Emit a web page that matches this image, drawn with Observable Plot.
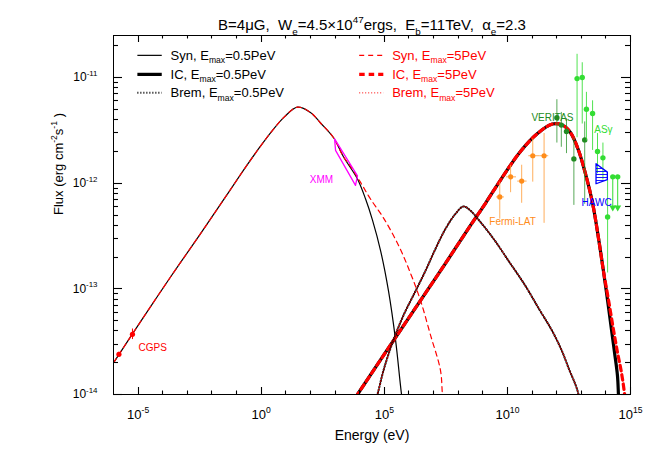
<!DOCTYPE html>
<html><head><meta charset="utf-8">
<script src="https://cdn.jsdelivr.net/npm/d3@7"></script>
<script src="https://cdn.jsdelivr.net/npm/@observablehq/plot@0.6"></script>
<style>
html,body{margin:0;padding:0;background:#fff;}
svg text{white-space:pre;}
</style></head><body><div id="chart"></div>
<script>
// ---------- values (log10 of energy in eV, log10 of flux in erg cm^-2 s^-1) ----------
const titleText = "B=4\u03bcG,  W_{e}=4.5\u00d710^{47}ergs,  E_{b}=11TeV,  \u03b1_{e}=2.3";
const xLabel = "Energy (eV)";
const yLabel = "Flux (erg cm^{-2}s^{-1} )";
const xTickExp = [-5, 0, 5, 10, 15];
const yTickExp = [-14, -13, -12, -11];

// Synchrotron, Emax = 0.5 PeV
const synLogE = [-6.00, -4.90, -3.69, -2.47, -1.45, -0.64, -0.03, 0.46, 0.95, 1.47, 2.00, 2.41, 2.94, 3.34, 3.91, 4.24, 4.52, 4.85, 5.17, 5.46, 5.70, 5.86];
const synLogF = [-13.70, -13.31, -12.89, -12.48, -12.13, -11.85, -11.65, -11.50, -11.37, -11.28, -11.33, -11.43, -11.57, -11.75, -11.96, -12.15, -12.35, -12.64, -13.02, -13.49, -14.00, -14.25];
// Synchrotron, Emax = 5 PeV
const syn5LogE = [-6.00, -4.90, -3.69, -2.47, -1.45, -0.64, -0.03, 0.46, 0.95, 1.47, 2.00, 2.41, 2.94, 3.34, 3.63, 4.03, 4.44, 4.97, 5.58, 6.06, 6.47, 6.88, 7.28, 7.36, 7.44];
const syn5LogF = [-13.70, -13.31, -12.89, -12.48, -12.13, -11.85, -11.65, -11.50, -11.37, -11.28, -11.33, -11.43, -11.57, -11.75, -11.84, -11.99, -12.15, -12.33, -12.59, -12.85, -13.11, -13.44, -13.77, -14.00, -14.20];
// Inverse Compton, Emax = 0.5 PeV
const icLogE = [3.63, 3.91, 5.66, 7.28, 8.50, 9.11, 9.72, 10.53, 11.22, 11.83, 12.24, 12.56, 12.89, 13.17, 13.46, 13.70, 13.90, 14.07, 14.23, 14.35, 14.47, 14.51, 14.55];
const icLogF = [-14.10, -14.00, -13.39, -12.83, -12.40, -12.19, -11.97, -11.70, -11.53, -11.44, -11.45, -11.52, -11.69, -11.91, -12.19, -12.52, -12.83, -13.11, -13.39, -13.60, -13.82, -14.00, -14.25];
// Inverse Compton, Emax = 5 PeV
const ic5LogE = [3.63, 3.91, 5.66, 7.28, 8.50, 9.11, 9.72, 10.53, 11.22, 11.83, 12.24, 12.56, 12.89, 13.17, 13.46, 13.70, 13.90, 14.11, 14.31, 14.47, 14.63, 14.76, 14.84];
const ic5LogF = [-14.10, -14.00, -13.39, -12.83, -12.40, -12.19, -11.97, -11.70, -11.53, -11.44, -11.45, -11.52, -11.69, -11.91, -12.19, -12.52, -12.83, -13.11, -13.39, -13.60, -13.79, -14.00, -14.25];
// Bremsstrahlung (both Emax, indistinguishable here)
const bremLogE = [4.52, 4.72, 4.97, 5.33, 5.78, 6.27, 6.67, 7.08, 7.49, 7.89, 8.22, 8.50, 8.88, 9.48, 10.09, 10.70, 11.31, 11.80, 12.20, 12.52, 12.77, 12.89, 13.01];
const bremLogF = [-14.15, -14.00, -13.77, -13.51, -13.25, -13.02, -12.83, -12.62, -12.43, -12.29, -12.22, -12.26, -12.36, -12.54, -12.75, -12.96, -13.20, -13.39, -13.58, -13.77, -13.91, -14.00, -14.15];
const brem5LogE = bremLogE.slice();
const brem5LogF = bremLogF.slice();

// Observations
const cgpsLogE = [-5.78, -5.23];
const cgpsLogF = [-13.62, -13.43];
const cgpsLogFlo = [-13.64, -13.48];
const cgpsLogFhi = [-13.60, -13.38];

// XMM butterfly outline: top-left, top-right, bottom-right, bottom-left, back to start
const xmmLogE = [2.98, 3.91, 3.83, 3.02, 2.98];
const xmmLogF = [-11.58, -11.93, -12.02, -11.69, -11.58];

const fermiLogE = [9.69, 10.13, 10.58, 11.03, 11.49];
const fermiLogElo = [9.56, 9.96, 10.42, 10.87, 11.32];
const fermiLogEhi = [9.88, 10.37, 10.80, 11.32, 11.68];
const fermiLogF = [-12.13, -11.94, -11.98, -11.74, -11.74];
const fermiLogFlo = [-12.34, -12.09, -12.19, -11.99, -12.38];
const fermiLogFhi = [-11.99, -11.83, -11.83, -11.58, -11.53];

const verLogE = [12.01, 12.19, 12.40, 12.70, 13.14];
const verLogF = [-11.38, -11.45, -11.51, -11.77, -11.59];
const verLogFlo = [-11.62, -11.66, -11.72, -12.21, -12.20];
const verLogFhi = [-11.21, -11.33, -11.39, -11.57, -11.42];

const asLogE = [12.83, 13.04, 13.21, 13.46, 13.66, 13.88, 14.07];
const asLogF = [-11.01, -11.00, -11.30, -11.34, -11.70, -11.76, -12.32];
const asLogFlo = [-11.57, -11.44, -11.60, -11.69, -11.91, -11.97, -12.85];
const asLogFhi = [-10.78, -10.86, -11.14, -11.22, -11.53, -11.62, -11.97];
const asUlLogE = [14.28, 14.48];
const asUlLogF = [-11.94, -11.94];
const asUlLogFend = [-12.23, -12.23];

const hawcLogE = [13.62, 14.08];
const hawcLogFlo = [-12.01, -11.97];
const hawcLogFhi = [-11.82, -11.90];

// Data labels
const dataLabels = ["CGPS", "XMM", "Fermi-LAT", "VERITAS", "AS\u03b3", "HAWC"];
const dataLabelLogE = [-4.98, 2.45, 10.21, 11.83, 13.90, 13.62];
const dataLabelLogF = [-13.56, -11.97, -12.37, -11.38, -11.49, -12.19];
const dataLabelColors = ["#ff0000", "#ff00ff", "#ff8c1a", "#228b22", "#33dd33", "#0000ff"];
const dataLabelAnchor = ["start", "middle", "middle", "middle", "middle", "middle"];

// Legend
const legendLabels = ["Syn, E_{max}=0.5PeV", "IC, E_{max}=0.5PeV", "Brem, E_{max}=0.5PeV", "Syn, E_{max}=5PeV", "IC, E_{max}=5PeV", "Brem, E_{max}=5PeV"];
const legendColors = ["#000000", "#000000", "#000000", "#ff0000", "#ff0000", "#ff0000"];
const legendSampleLogE = [[-5.01, -4.02], [-5.01, -4.02], [-5.01, -4.02], [4.00, 4.98], [4.00, 4.98], [4.00, 4.98]];
const legendTextLogE = [-3.68, -3.68, -3.68, 5.32, 5.32, 5.32];
const legendLogF = [-10.79, -10.97, -11.145, -10.79, -10.97, -11.145];

// ---------- layout ----------
const W = 664, H = 465, mL = 113, mR = 34, mT = 35, mB = 71;
const xDomain = [1e-6, 1e15], yDomain = [1e-14, 2.5e-11];

// ---------- build ----------
const P = v => 10 ** v;
const curve = (le, lf) => le.map((e, i) => ({E: P(e), F: P(lf[i])}));
const pts = (le, lf, lo, hi) => le.map((e, i) => ({E: P(e), F: P(lf[i]), lo: P(lo[i]), hi: P(hi[i])}));

const styles = {
  syn:  {stroke: "#000", strokeWidth: 1.2},
  ic:   {stroke: "#000", strokeWidth: 3.2},
  brem: {stroke: "#000", strokeWidth: 2, strokeDasharray: "1,2"},
  syn5: {stroke: "#ff0000", strokeWidth: 1.2, strokeDasharray: "5,4"},
  ic5:  {stroke: "#ff0000", strokeWidth: 3.2, strokeDasharray: "5.5,4"},
  brem5:{stroke: "#ff0000", strokeWidth: 1, strokeDasharray: "1,2"}
};
const styleOrder = ["syn", "ic", "brem", "syn5", "ic5", "brem5"];

const curveMarks = [
  Plot.line(curve(synLogE, synLogF), {x: "E", y: "F", curve: "catmull-rom", clip: true, ...styles.syn}),
  Plot.line(curve(syn5LogE, syn5LogF), {x: "E", y: "F", curve: "catmull-rom", clip: true, ...styles.syn5}),
  Plot.line(curve(icLogE, icLogF), {x: "E", y: "F", curve: "catmull-rom", clip: true, ...styles.ic}),
  Plot.line(curve(ic5LogE, ic5LogF), {x: "E", y: "F", curve: "catmull-rom", clip: true, ...styles.ic5}),
  Plot.line(curve(bremLogE, bremLogF), {x: "E", y: "F", curve: "catmull-rom", clip: true, ...styles.brem}),
  Plot.line(curve(brem5LogE, brem5LogF), {x: "E", y: "F", curve: "catmull-rom", clip: true, ...styles.brem5})
];

const cgps = pts(cgpsLogE, cgpsLogF, cgpsLogFlo, cgpsLogFhi);
const fermi = pts(fermiLogE, fermiLogF, fermiLogFlo, fermiLogFhi).map((d, i) => ({...d, Elo: P(fermiLogElo[i]), Ehi: P(fermiLogEhi[i])}));
const ver = pts(verLogE, verLogF, verLogFlo, verLogFhi);
const asg = pts(asLogE, asLogF, asLogFlo, asLogFhi);
const asUl = asUlLogE.map((e, i) => ({E: P(e), F: P(asUlLogF[i]), end: P(asUlLogFend[i])}));
const hawc = hawcLogE.map((e, i) => ({E: P(e), lo: P(hawcLogFlo[i]), hi: P(hawcLogFhi[i])}));
const xmm = curve(xmmLogE, xmmLogF);

const obsMarks = [
  Plot.line(xmm, {x: "E", y: "F", stroke: "#ff00ff", strokeWidth: 1.3}),
  Plot.ruleX(cgps, {x: "E", y1: "lo", y2: "hi", stroke: "#ff0000"}),
  Plot.dot(cgps, {x: "E", y: "F", r: 2.6, fill: "#ff0000"}),
  Plot.ruleX(fermi, {x: "E", y1: "lo", y2: "hi", stroke: "#ff9a33", strokeOpacity: 0.8}),
  Plot.ruleY(fermi, {y: "F", x1: "Elo", x2: "Ehi", stroke: "#ff9a33", strokeOpacity: 0.8}),
  Plot.dot(fermi, {x: "E", y: "F", r: 2.6, fill: "#ff8c1a"}),
  Plot.ruleX(ver, {x: "E", y1: "lo", y2: "hi", stroke: "#228b22", strokeOpacity: 0.75}),
  Plot.dot(ver, {x: "E", y: "F", r: 2.7, fill: "#228b22"}),
  Plot.ruleX(asg, {x: "E", y1: "lo", y2: "hi", stroke: "#33dd33", strokeOpacity: 0.85, clip: true}),
  Plot.dot(asg, {x: "E", y: "F", r: 2.7, fill: "#33dd33"}),
  Plot.ruleX(asUl, {x: "E", y1: "F", y2: "end", stroke: "#33dd33"}),
  Plot.dot(asUl, {x: "E", y: "F", r: 2.7, fill: "#33dd33"}),
  Plot.dot(asUl, {x: "E", y: "end", r: 2.6, symbol: "triangle", rotate: 180, fill: "#33dd33"}),
  Plot.areaY(hawc, {x: "E", y1: "lo", y2: "hi", fill: "url(#hawcHatch)", stroke: "#0000ff", strokeWidth: 1.3})
];

const labelMarks = dataLabels.map((t, i) =>
  Plot.text([t], {x: () => P(dataLabelLogE[i]), y: () => P(dataLabelLogF[i]), text: d => d,
    fill: dataLabelColors[i], fontSize: 10, textAnchor: dataLabelAnchor[i]}));

const legendMarks = legendLabels.flatMap((t, i) => [
  Plot.ruleY([P(legendLogF[i])], {y: d => d, x1: () => P(legendSampleLogE[i][0]), x2: () => P(legendSampleLogE[i][1]), ...styles[styleOrder[i]]}),
  Plot.text([t], {x: () => P(legendTextLogE[i]), y: () => P(legendLogF[i]), text: d => d, textAnchor: "start", fill: legendColors[i], fontSize: 13})
]);

const xMajor = xTickExp.map(P);
const xMinor = d3.range(-5, 16).filter(e => !xTickExp.includes(e)).map(P);
const yMajor = yTickExp.map(P);
const yMinor = [];
for (const e of yTickExp) for (let m = 2; m <= 9; m++) { const v = m * P(e); if (v <= yDomain[1]) yMinor.push(v); }
const expFmt = d => `10^{${Math.round(Math.log10(d))}}`;

// inward tick marks on all four sides
const tickLinks = [];
for (const v of xMajor) tickLinks.push({kind: "xb", v, len: 7}, {kind: "xt", v, len: 7});
for (const v of xMinor) tickLinks.push({kind: "xb", v, len: 3.5}, {kind: "xt", v, len: 3.5});
for (const v of yMajor) tickLinks.push({kind: "yl", v, len: 9}, {kind: "yr", v, len: 9});
for (const v of yMinor) tickLinks.push({kind: "yl", v, len: 5}, {kind: "yr", v, len: 5});

const axisMarks = [
  Plot.axisX(xMajor, {anchor: "bottom", tickSize: 0, tickPadding: 15, tickFormat: expFmt, fontSize: 13, label: null}),
  Plot.axisY(yMajor, {anchor: "left", tickSize: 0, tickPadding: 16, tickFormat: expFmt, fontSize: 12, label: null}),
  Plot.text([xLabel], {frameAnchor: "bottom", dy: 45, text: d => d, fontSize: 14}),
  Plot.text([yLabel], {frameAnchor: "left", dx: -55, rotate: -90, text: d => d, fontSize: 13}),
  Plot.text([titleText], {frameAnchor: "top", dy: -16, text: d => d, fontSize: 15})
];

const svg = Plot.plot({
  width: W, height: H,
  marginLeft: mL, marginRight: mR, marginTop: mT, marginBottom: mB,
  style: {fontFamily: "'Liberation Sans', Arial, Helvetica, sans-serif", background: "#fff", color: "#000"},
  x: {type: "log", domain: xDomain, axis: null},
  y: {type: "log", domain: yDomain, axis: null},
  marks: [
    ...curveMarks,
    ...obsMarks,
    ...labelMarks,
    ...legendMarks,
    ...axisMarks,
    Plot.frame({stroke: "#000", strokeWidth: 1})
  ]
});
document.getElementById("chart").appendChild(svg);

const NS = "http://www.w3.org/2000/svg";

// draw the ticks with Plot's scale objects
{
  const sx = svg.scale("x"), sy = svg.scale("y");
  const left = Math.min(...sx.range), right = Math.max(...sx.range);
  const top = Math.min(...sy.range), bottom = Math.max(...sy.range);
  const g = document.createElementNS(NS, "g");
  g.setAttribute("class", "inward-ticks");
  for (const t of tickLinks) {
    const ln = document.createElementNS(NS, "line");
    let x1, y1, x2, y2;
    if (t.kind === "xb" || t.kind === "xt") {
      const p = Math.round(sx.apply(t.v)) + 0.5;
      x1 = x2 = p;
      y1 = t.kind === "xb" ? bottom : top;
      y2 = t.kind === "xb" ? bottom - t.len : top + t.len;
    } else {
      const p = Math.round(sy.apply(t.v)) + 0.5;
      y1 = y2 = p;
      x1 = t.kind === "yl" ? left : right;
      x2 = t.kind === "yl" ? left + t.len : right - t.len;
    }
    ln.setAttribute("x1", x1); ln.setAttribute("y1", y1);
    ln.setAttribute("x2", x2); ln.setAttribute("y2", y2);
    ln.setAttribute("stroke", "#000");
    ln.setAttribute("stroke-width", "1.1");
    g.appendChild(ln);
  }
  svg.appendChild(g);
}

// hatch pattern for the HAWC butterfly
const defs = document.createElementNS(NS, "defs");
defs.innerHTML = '<pattern id="hawcHatch" patternUnits="userSpaceOnUse" width="6" height="3"><line x1="0" y1="0.5" x2="6" y2="0.5" stroke="#0000ff" stroke-width="0.9"/></pattern>';
svg.insertBefore(defs, svg.firstChild);

// turn _{...} and ^{...} into real subscripts / superscripts
function richify(root) {
  root.querySelectorAll("text").forEach(t => {
    const s = t.textContent;
    if (!/[_^]\{/.test(s) || t.querySelector("tspan")) return;
    const fs = parseFloat(getComputedStyle(t).fontSize) || 12;
    const parts = [];
    const re = /([_^])\{([^}]*)\}/g;
    let last = 0, m;
    while ((m = re.exec(s))) {
      if (m.index > last) parts.push({t: s.slice(last, m.index), k: 0});
      parts.push({t: m[2], k: m[1] === "^" ? -1 : 1});
      last = re.lastIndex;
    }
    if (last < s.length) parts.push({t: s.slice(last), k: 0});
    t.textContent = "";
    let cur = 0;
    for (const p of parts) {
      const ts = document.createElementNS(NS, "tspan");
      const target = p.k === -1 ? -0.45 * fs : p.k === 1 ? 0.3 * fs : 0;
      const dy = target - cur;
      if (Math.abs(dy) > 1e-6) ts.setAttribute("dy", dy.toFixed(2));
      if (p.k) ts.setAttribute("font-size", (0.66 * fs).toFixed(2));
      ts.textContent = p.t;
      t.appendChild(ts);
      cur = target;
    }
  });
}
richify(svg);
</script></body></html>
